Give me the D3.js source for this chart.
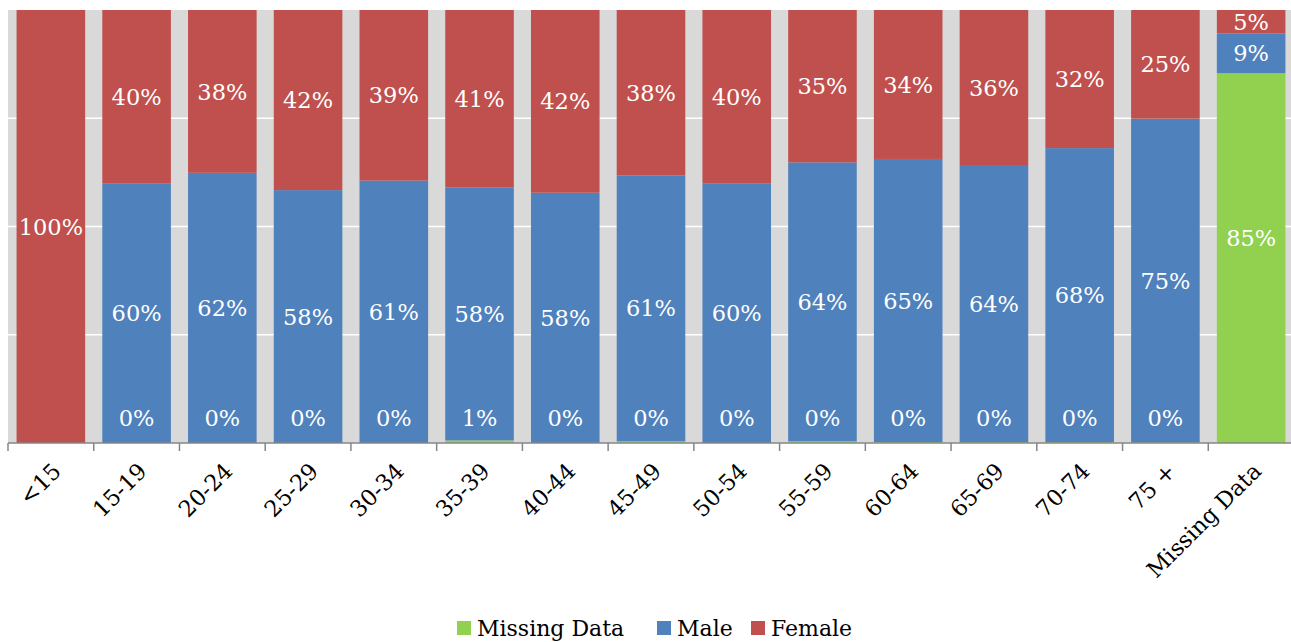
<!DOCTYPE html>
<html>
<head>
<meta charset="utf-8">
<script src="https://cdn.jsdelivr.net/npm/d3@7"></script>
<style>
  body { margin: 0; background: #fff; }
  text { font-family: "DejaVu Serif", serif; }
</style>
</head>
<body>
<svg width="1291" height="642"></svg>
<script>
// categories and series values (percent of each age group)
const ageGroups = ["<15", "15-19", "20-24", "25-29", "30-34", "35-39", "40-44", "45-49",
  "50-54", "55-59", "60-64", "65-69", "70-74", "75 +", "Missing Data"];
const missingVals = [0, 0, 0, 0, 0, 0.6, 0, 0.4, 0, 0.4, 0.2, 0.2, 0.2, 0.1, 85.4];
const maleVals = [0, 60.0, 62.4, 58.4, 60.6, 58.4, 57.8, 61.4, 60.0, 64.4, 65.4, 64.0, 67.9, 74.8, 9.2];
const femaleVals = [100, 40.0, 37.6, 41.6, 39.4, 41.0, 42.2, 38.2, 40.0, 35.2, 34.4, 35.8, 31.9, 25.1, 5.4];
const seriesNames = ["Missing Data", "Male", "Female"];
const seriesColors = ["#92d050", "#4f81bd", "#c0504d"];
const yTicks = [0, 25, 50, 75, 100];

const svg = d3.select("svg");
const margin = { top: 10, left: 8 };
const plotW = 1286, plotH = 433;

const rows = ageGroups.map((g, i) => ({
  group: g, "Missing Data": missingVals[i], Male: maleVals[i], Female: femaleVals[i]
}));
const stacked = d3.stack().keys(seriesNames)(rows);

const x = d3.scaleBand().domain(ageGroups).range([0, plotW]).paddingInner(0.2).paddingOuter(0.1);
const y = d3.scaleLinear().domain([0, 100]).range([plotH, 0]);
const color = d3.scaleOrdinal().domain(seriesNames).range(seriesColors);

const g = svg.append("g").attr("transform", `translate(${margin.left},${margin.top})`);

// plot background + gridlines
g.append("rect").attr("width", plotW + 10).attr("height", plotH).attr("fill", "#d9d9d9");
g.selectAll("line.grid").data(yTicks.slice(1, -1)).enter().append("line")
  .attr("x1", 0).attr("x2", plotW + 10)
  .attr("y1", d => y(d)).attr("y2", d => y(d))
  .attr("stroke", "#fff").attr("stroke-width", 1.5);

// bars
const layer = g.selectAll("g.layer").data(stacked).enter().append("g")
  .attr("fill", d => color(d.key));
layer.selectAll("rect").data(d => d).enter().append("rect")
  .attr("x", d => x(d.data.group))
  .attr("width", x.bandwidth())
  .attr("y", d => y(d[1]))
  .attr("height", d => y(d[0]) - y(d[1]));

// value labels (skip zero-value segments of male/female)
stacked.forEach(s => {
  s.forEach(d => {
    const v = d[1] - d[0];
    if (s.key !== "Missing Data" && v === 0) return;
    if (s.key === "Missing Data" && d.data.group === "<15") return;
    let cy = y((d[0] + d[1]) / 2);
    if (s.key === "Missing Data") cy = Math.min(cy - 20, plotH - 25);
    g.append("text")
      .attr("x", x(d.data.group) + x.bandwidth() / 2)
      .attr("y", cy)
      .attr("dy", "0.36em")
      .attr("text-anchor", "middle")
      .attr("fill", "#fff")
      .attr("font-size", "22.5px")
      .text(Math.round(v) + "%");
  });
});

// x axis: line with ticks at band boundaries
const axis = g.append("g").attr("transform", `translate(0,${plotH})`);
axis.append("line").attr("x1", 0).attr("x2", plotW + 10).attr("stroke", "#868686").attr("stroke-width", 1.5);
const step = x.step();
axis.selectAll("line.tick").data(d3.range(ageGroups.length + 1)).enter().append("line")
  .attr("x1", i => i * step).attr("x2", i => i * step)
  .attr("y1", 0).attr("y2", 8)
  .attr("stroke", "#868686").attr("stroke-width", 1.5);
axis.selectAll("text").data(ageGroups).enter().append("text")
  .attr("transform", d => `translate(${x(d) + x.bandwidth() / 2 + 6},${24}) rotate(-45)`)
  .attr("text-anchor", "end")
  .attr("dy", "0.35em")
  .attr("font-size", "22.5px")
  .attr("fill", "#000")
  .text(d => d);

// legend
const legend = svg.append("g").attr("transform", "translate(0,628)");
const legendX = [457, 657, 751];
seriesNames.forEach((s, i) => {
  legend.append("rect").attr("x", legendX[i]).attr("y", -7).attr("width", 14).attr("height", 14)
    .attr("fill", seriesColors[i]);
  legend.append("text").attr("x", legendX[i] + 20).attr("y", 0).attr("dy", "0.35em")
    .attr("font-size", "22px").attr("fill", "#000").text(s);
});
</script>
</body>
</html>
